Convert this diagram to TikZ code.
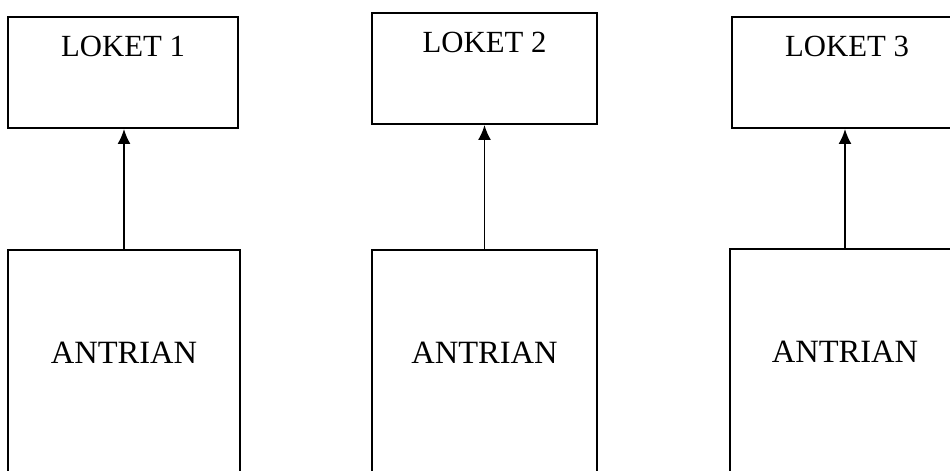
\documentclass[tikz,border=0pt]{standalone}
\usepackage{fontspec}
\setmainfont{Liberation Serif}
\usetikzlibrary{arrows.meta}

\begin{document}
\begin{tikzpicture}[
    every node/.style={draw, line width=1.1pt, inner sep=0pt, anchor=north,
      font=\fontsize{17.5}{20}\selectfont},
    loket/.style={minimum width=4.6cm, text height=.8cm, text depth=1.42cm},
    antrian/.style={minimum width=4.6cm, text height=2.28cm, text depth=2.74cm,
      font=\fontsize{18.5}{20}\selectfont},
    arr/.style={line width=1.1pt, -{Latex[length=3mm,width=2.6mm]}}
  ]

  \clip (0,0) rectangle (19,9.4);

  % counters
  \node[loket] (l1) at (2.46,9.08) {LOKET 1};
  \node[loket, minimum width=4.5cm] (l2) at (9.69,9.16) {LOKET 2};
  \node[loket] (l3) at (16.94,9.08) {LOKET 3};

  % queues
  \node[antrian, minimum width=4.64cm] (a1) at (2.48,4.42) {ANTRIAN};
  \node[antrian, minimum width=4.5cm] (a2) at (9.69,4.42) {ANTRIAN};
  \node[antrian] (a3) at (16.9,4.44) {ANTRIAN};

  \draw[arr] (a1.north) -- (a1.north |- l1.south);
  \draw[arr] (a2.north) -- (a2.north |- l2.south);
  \draw[arr] (a3.north) -- (a3.north |- l3.south);

\end{tikzpicture}
\end{document}
